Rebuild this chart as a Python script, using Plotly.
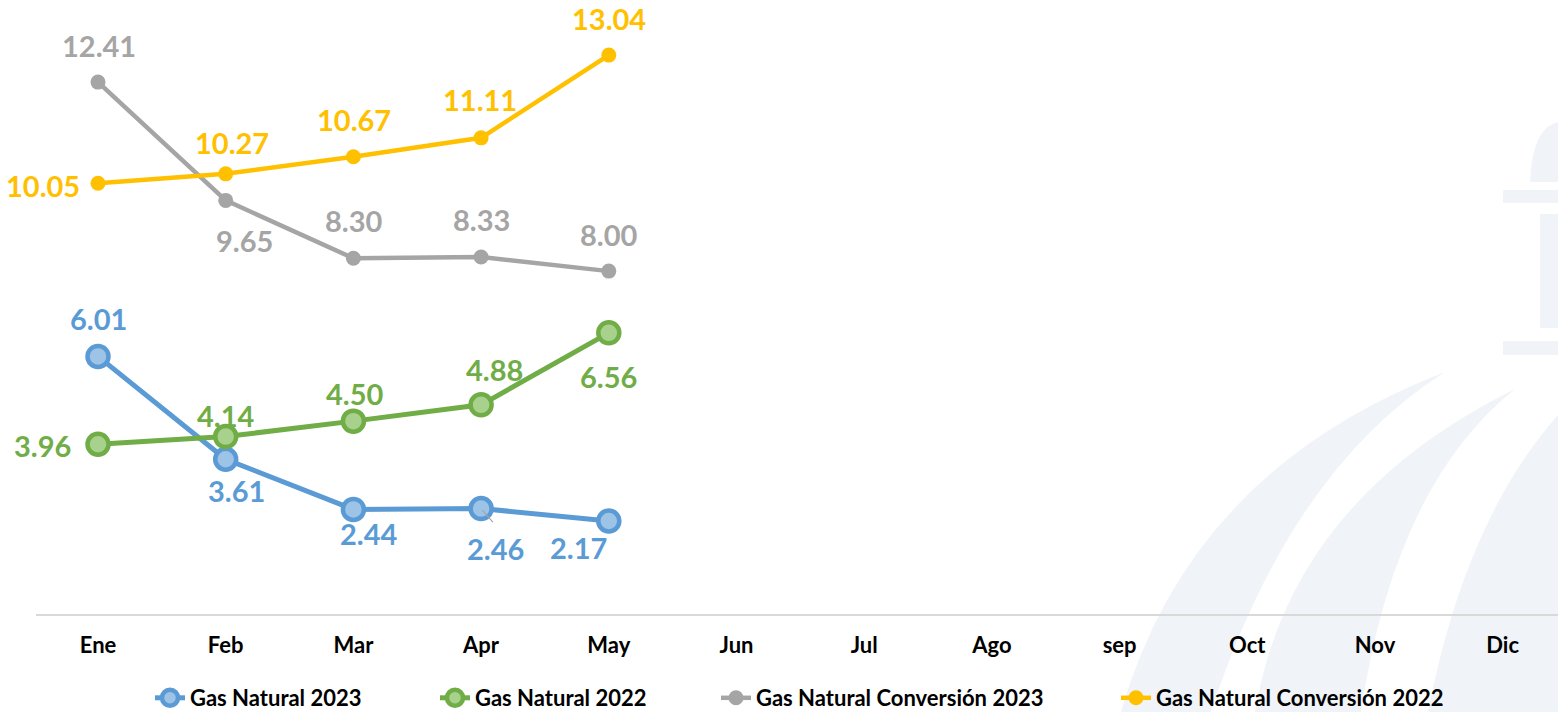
import plotly.graph_objects as go

months = ["Ene", "Feb", "Mar", "Apr", "May", "Jun", "Jul", "Ago", "sep", "Oct", "Nov", "Dic"]
gn_2023 = [6.01, 3.61, 2.44, 2.46, 2.17]
gn_2022 = [3.96, 4.14, 4.50, 4.88, 6.56]
gnc_2023 = [12.41, 9.65, 8.30, 8.33, 8.00]
gnc_2022 = [10.05, 10.27, 10.67, 11.11, 13.04]

names = ["Gas Natural 2023", "Gas Natural 2022", "Gas Natural Conversión 2023", "Gas Natural Conversión 2022"]
series = [gn_2023, gn_2022, gnc_2023, gnc_2022]
colors = ["#5B9BD5", "#70AD47", "#A5A5A5", "#FFC000"]
fills = ["#9DC3E6", "#A9D18E", "#A5A5A5", "#FFC000"]

# label offsets (pixels) relative to each point: (dx, dy) with dy positive = up
label_offsets = [
    [(0, 38), (11, -31), (16, -24), (14, -40), (-30, -27)],
    [(-56, -1), (0, 21), (2, 28), (13, 35), (0, -44)],
    [(1, 37), (19, -40), (1, 38), (0, 37), (0, 37)],
    [(-55, -2), (6, 31), (1, 37), (-1, 38), (0, 37)],
]

W, H = 1558, 712
L, R, T = 36, 0, 0
PLOT_BOTTOM = 614
B = H - PLOT_BOTTOM
PW, PH = W - L - R, H - T - B
x_range = [-(98 - L) / 127.7, -(98 - L) / 127.7 + PW / 127.7]
y_range = [0, PH / 42.86]

FONT = "Lato"

fig = go.Figure()
for i, (nm, vals) in enumerate(zip(names, series)):
    big = i < 2
    fig.add_trace(go.Scatter(
        x=months[:len(vals)], y=vals, name=nm, mode="lines+markers",
        line=dict(color=colors[i], width=5 if big else 4.5),
        marker=dict(size=21 if big else 15, color=fills[i],
                    line=dict(color=colors[i], width=4.5 if big else 0)),
        legend="legend" if i == 0 else f"legend{i+1}",
        hoverinfo="skip",
    ))

annotations = []
for i, vals in enumerate(series):
    for j, v in enumerate(vals):
        dx, dy = label_offsets[i][j]
        annotations.append(dict(
            x=months[j], y=v, xref="x", yref="y", text=f"{v:.2f}",
            showarrow=False, xshift=dx, yshift=dy,
            font=dict(family=FONT, size=29, color=colors[i], weight=700)))

# leader line for the 2.46 label
annotations.append(dict(x=months[3], y=gn_2023[3], xref="x", yref="y", text="",
                        showarrow=True, arrowhead=0, arrowwidth=1.2, arrowcolor="#A5A5A5",
                        ax=13, ay=15, standoff=2))


def px(xp, yp):
    # page pixel -> paper coordinates
    return ((xp - L) / PW, (PLOT_BOTTOM - yp) / PH)


def path(cmds):
    out = []
    for c in cmds:
        op, pts = c[0], c[1:]
        s = op
        for (a, b) in pts:
            xx, yy = px(a, b)
            s += f" {xx:.5f},{yy:.5f}"
        out.append(s)
    return " ".join(out) + " Z"


wm = "#F0F4F9"
shapes = []
wm_paths = [
    [("M", (1121, 712)), ("Q", (1190, 470), (1445, 372)), ("Q", (1290, 470), (1211, 712))],
    [("M", (1255, 712)), ("Q", (1290, 500), (1515, 389)), ("Q", (1395, 485), (1361, 712))],
    [("M", (1428, 712)), ("Q", (1465, 520), (1558, 415)), ("L", (1558, 712))],
    [("M", (1530, 182)), ("Q", (1532, 128), (1558, 122)), ("L", (1558, 182))],
    [("M", (1503, 190)), ("L", (1558, 190)), ("L", (1558, 203)), ("L", (1503, 203))],
    [("M", (1540, 214)), ("L", (1558, 214)), ("L", (1558, 328)), ("L", (1540, 328))],
    [("M", (1503, 341)), ("L", (1558, 341)), ("L", (1558, 355)), ("L", (1503, 355))],
]
for p in wm_paths:
    shapes.append(dict(type="path", xref="paper", yref="paper", path=path(p),
                       fillcolor=wm, line=dict(width=0), layer="below"))

legend_text_x = [190, 475, 756, 1156]
legend_common = dict(orientation="h", yanchor="middle", xanchor="left",
                     font=dict(family=FONT, size=22, color="#000000", weight=700),
                     bgcolor="rgba(0,0,0,0)", borderwidth=0)
legends = {}
for i, tx in enumerate(legend_text_x):
    key = "legend" if i == 0 else f"legend{i+1}"
    legends[key] = dict(legend_common, x=(tx - 40 - L) / PW,
                        y=(PLOT_BOTTOM - 698) / PH)

fig.update_layout(
    width=W, height=H,
    margin=dict(l=L, r=R, t=T, b=B, autoexpand=False),
    paper_bgcolor="white", plot_bgcolor="rgba(0,0,0,0)",
    showlegend=True,
    xaxis=dict(categoryorder="array", categoryarray=months, range=x_range,
               showline=True, linecolor="#D9D9D9", linewidth=1.5,
               showgrid=False, zeroline=False, ticks="", automargin=False,
               tickfont=dict(family=FONT, size=22, color="#000000", weight=700),
               ticklabelstandoff=11, fixedrange=True),
    yaxis=dict(range=y_range, visible=False, fixedrange=True, automargin=False),
    annotations=annotations,
    shapes=shapes,
    **legends,
)

fig.write_html("out.html", config={"displayModeBar": False},
               post_script="document.body.style.margin='0px';")
